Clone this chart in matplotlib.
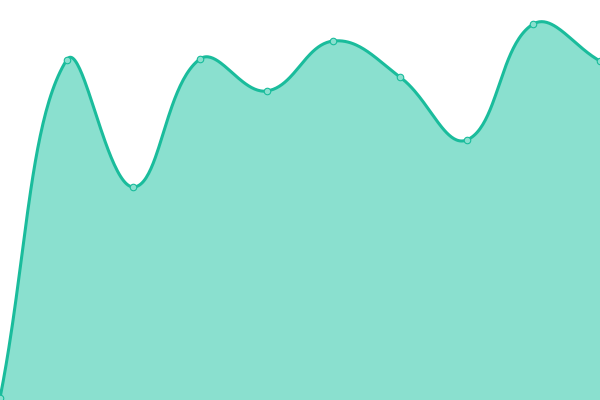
import matplotlib
matplotlib.use("Agg")
import matplotlib.pyplot as plt
import numpy as np

# значення точок (висота від нижнього краю, 0..400)
x_idx = [0, 1, 2, 3, 4, 5, 6, 7, 8, 9]
values = [2, 340, 213, 341, 309, 359, 323, 260, 376, 339]

line_color = "#1abc9c"
fill_color = "#8ae0cf"

W, H = 600, 400
tension = 0.4


def spline_path(px, py, t=0.4, steps=50):
    # криві Безьє з контрольними точками як у splineCurve (tension 0.4)
    pts = np.column_stack([px, py]).astype(float)
    n = len(pts)
    cp_prev = np.zeros_like(pts)
    cp_next = np.zeros_like(pts)
    for i in range(n):
        p0 = pts[max(i - 1, 0)]
        p1 = pts[i]
        p2 = pts[min(i + 1, n - 1)]
        d01 = np.linalg.norm(p1 - p0)
        d12 = np.linalg.norm(p2 - p1)
        s01 = d01 / (d01 + d12) if d01 + d12 else 0
        s12 = d12 / (d01 + d12) if d01 + d12 else 0
        cp_prev[i] = p1 - t * s01 * (p2 - p0)
        cp_next[i] = p1 + t * s12 * (p2 - p0)
    # обмеження контрольних точок областю графіка
    cp_prev[:, 0] = np.clip(cp_prev[:, 0], 0, W)
    cp_next[:, 0] = np.clip(cp_next[:, 0], 0, W)
    cp_prev[:, 1] = np.clip(cp_prev[:, 1], 0, H)
    cp_next[:, 1] = np.clip(cp_next[:, 1], 0, H)
    out = [pts[0]]
    s = np.linspace(0, 1, steps)[1:, None]
    for i in range(n - 1):
        a, b, c, d = pts[i], cp_next[i], cp_prev[i + 1], pts[i + 1]
        seg = (1 - s) ** 3 * a + 3 * (1 - s) ** 2 * s * b + 3 * (1 - s) * s**2 * c + s**3 * d
        out.extend(seg)
    out = np.array(out)
    return out[:, 0], out[:, 1]


px = np.array(x_idx) * W / (len(x_idx) - 1)
sx, sy = spline_path(px, values, tension)

fig = plt.figure(figsize=(6, 4), dpi=100)
ax = fig.add_axes([0, 0, 1, 1])
ax.fill_between(sx, sy, 0, color=fill_color, linewidth=0)
ax.plot(sx, sy, color=line_color, linewidth=2.2, solid_capstyle="round")
ax.scatter(px, values, s=22, facecolor=fill_color, edgecolor=line_color,
           linewidth=0.8, zorder=3, clip_on=False)
ax.set_xlim(0, W)
ax.set_ylim(0, H)
ax.axis("off")
fig.savefig("out.png", dpi=100)
